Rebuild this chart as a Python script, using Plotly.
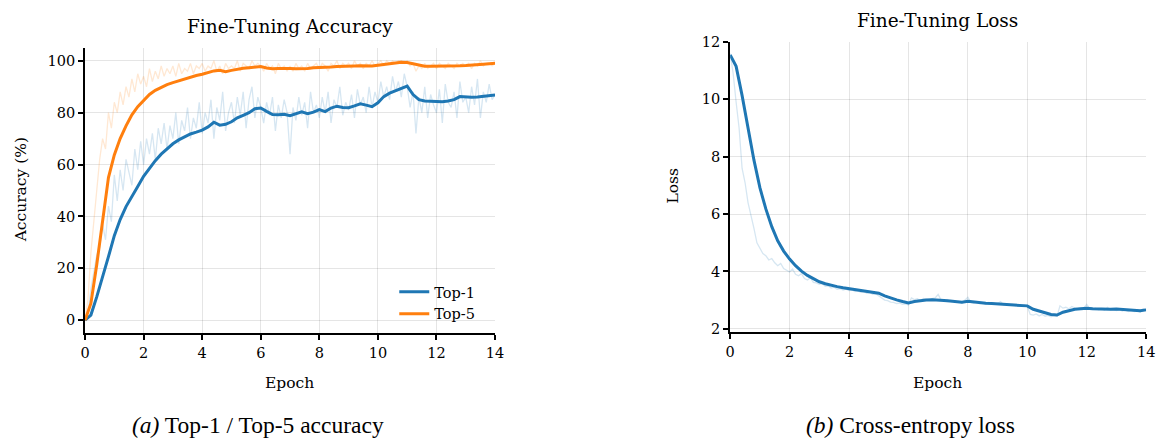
import plotly.graph_objects as go

W, H = 1166, 445

# ---------------- data ----------------
# smoothed curves, sampled every 0.2 epoch
top1_smooth = [0, 2, 9, 16.4, 24.5, 32.6, 38.8, 43.8, 47.5, 51.5,
               55.5, 58.5, 61.5, 64, 66, 68, 69.5, 70.8, 71.8, 72.5,
               73.3, 74.5, 76.3, 75.2, 75.5, 76.5, 78, 79, 80, 81.5,
               81.8, 80.5, 79.3, 79.2, 79.4, 78.8, 79.5, 80.3, 79.6, 80.2,
               81.2, 80.4, 81.8, 82.5, 82.0, 81.9, 82.6, 83.4, 82.9, 82.3,
               83.8, 86.2, 87.5, 88.5, 89.3, 90.2, 87.0, 85.0, 84.5, 84.4,
               84.3, 84.25, 84.5, 85.0, 86.2, 86.0, 85.9, 86.0, 86.3, 86.4,
               86.8]
top5_smooth = [0, 6.5, 21.4, 38.8, 55, 63.7, 70, 74.9, 79.2, 82.3,
               84.8, 87, 88.6, 89.8, 90.8, 91.6, 92.3, 93.1, 93.6, 94.3,
               94.8, 95.4, 96.1, 96.3, 95.8, 96.3, 96.8, 97.1, 97.3, 97.6,
               97.8, 97.2, 96.9, 97.0, 97.1, 97.0, 96.9, 96.9, 97.0, 97.3,
               97.4, 97.3, 97.6, 97.8, 97.8, 97.9, 98.0, 98.1, 98.1, 98.0,
               98.3, 98.6, 98.9, 99.2, 99.4, 99.3, 98.8, 98.2, 97.9, 97.9,
               97.9, 97.9, 98.0, 98.0, 98.1, 98.2, 98.3, 98.4, 98.7, 98.9,
               99.0]
loss_smooth = [11.55, 11.15, 10.14, 9.0, 7.88, 6.92, 6.18, 5.56, 5.07, 4.71,
               4.43, 4.2, 4.01, 3.86, 3.74, 3.64, 3.57, 3.51, 3.47, 3.43,
               3.40, 3.37, 3.33, 3.32, 3.29, 3.24, 3.15, 3.07, 3.01, 2.95,
               2.90, 2.95, 2.98, 3.00, 3.01, 3.01, 2.99, 2.97, 2.94, 2.93,
               2.96, 2.93, 2.91, 2.89, 2.88, 2.87, 2.86, 2.84, 2.83, 2.82,
               2.80, 2.68, 2.61, 2.56, 2.50, 2.48, 2.58, 2.64, 2.68, 2.70,
               2.72, 2.70, 2.69, 2.69, 2.68, 2.69, 2.67, 2.65, 2.64, 2.63,
               2.66]

# raw (unsmoothed) curves, sampled every 0.1 epoch
top1_raw = [0, 3, 12, 19, 25, 28, 37, 31, 44, 38,
            56, 46, 58, 50, 62, 57, 52, 66, 58, 69,
            60, 70, 64, 72, 62, 74, 68, 76, 66, 75,
            70, 80, 68, 77, 73, 82, 70, 78, 74, 84,
            72, 80, 76, 85, 70, 82, 77, 88, 73, 80,
            84, 76, 86, 79, 88, 74, 85, 90, 78, 86,
            82, 76, 84, 79, 86, 73, 83, 78, 85, 80,
            64, 82, 77, 86, 79, 84, 74, 88, 80, 83,
            78, 86, 80, 88, 76, 85, 82, 90, 79, 84,
            81, 87, 78, 89, 83, 86, 80, 90, 82, 88,
            84, 92, 86, 90, 85, 94, 88, 92, 86, 95,
            90, 82, 88, 72, 86, 80, 90, 78, 87, 83,
            80, 89, 76, 91, 84, 82, 88, 78, 92, 84,
            86, 80, 90, 83, 93, 78, 88, 84, 91, 85,
            87]
top5_raw = [0, 8, 26, 38, 50, 62, 70, 66, 80, 74,
            84, 80, 88, 83, 90, 86, 93, 88, 95, 91,
            94, 90, 97, 92, 96, 93, 98, 94, 97, 95,
            98, 94, 99, 95, 97, 96, 99, 95, 98, 97,
            99, 96, 98, 97, 100, 96, 98, 95, 99, 97,
            98, 97, 100, 96, 99, 98, 97, 100, 98, 99,
            98, 96, 99, 97, 98, 95, 99, 97, 98, 96,
            98, 96, 99, 97, 98, 96, 99, 97, 98, 99,
            97, 99, 98, 96, 99, 98, 100, 97, 99, 98,
            99, 97, 100, 98, 99, 97, 99, 98, 100, 98,
            99, 100, 98, 100, 99, 100, 99, 100, 100, 99,
            100, 98, 99, 96, 98, 97, 99, 97, 98, 99,
            97, 99, 98, 97, 99, 98, 97, 99, 98, 99,
            98, 99, 97, 99, 98, 100, 98, 99, 99, 98,
            99]
loss_raw = [11.6, 10.9, 9.9, 9.0, 7.6, 7.1, 6.4, 6.0, 5.5, 5.0,
            4.8, 4.62, 4.55, 4.4, 4.45, 4.3, 4.2, 4.28, 4.1, 4.05,
            3.98, 4.08, 3.9, 3.85, 3.92, 3.75, 3.7, 3.78, 3.62, 3.6,
            3.55, 3.58, 3.48, 3.5, 3.42, 3.45, 3.38, 3.4, 3.35, 3.38,
            3.33, 3.36, 3.3, 3.32, 3.27, 3.3, 3.24, 3.27, 3.2, 3.22,
            3.15, 3.1, 3.0, 2.98, 2.93, 2.92, 2.88, 2.9, 2.85, 2.87,
            2.83, 3.08, 3.02, 3.05, 2.98, 3.06, 3.02, 3.0, 3.05, 3.08,
            3.2, 3.0, 2.95, 3.02, 2.96, 2.98, 2.92, 2.95, 2.9, 3.0,
            3.1, 2.92, 2.9, 2.95, 2.88, 2.9, 2.86, 2.92, 2.87, 2.85,
            2.88, 2.95, 2.84, 2.86, 2.82, 2.85, 2.8, 2.83, 2.79, 2.82,
            2.78, 2.5, 2.48, 2.52, 2.45, 2.5, 2.44, 2.47, 2.42, 2.46,
            2.44, 2.8, 2.72, 2.75, 2.7, 2.78, 2.72, 2.7, 2.74, 2.72,
            2.85, 2.7, 2.68, 2.72, 2.66, 2.7, 2.65, 2.75, 2.66, 2.68,
            2.64, 2.67, 2.62, 2.65, 2.6, 2.64, 2.6, 2.62, 2.58, 2.7,
            2.66]

epoch_smooth = [round(i * 0.2, 1) for i in range(len(top1_smooth))]
epoch_raw = [round(i * 0.1, 1) for i in range(len(top1_raw))]
x_ticks = [0, 2, 4, 6, 8, 10, 12, 14]
acc_ticks = [0, 20, 40, 60, 80, 100]
loss_ticks = [2, 4, 6, 8, 10, 12]

BLUE = "#1f77b4"
ORANGE = "#ff7f0e"
SERIF = "DejaVu Serif"
TIMES = "Liberation Serif"
RAW_OPACITY = 0.18

fig = go.Figure()

# raw traces (light)
fig.add_trace(go.Scatter(x=epoch_raw, y=top5_raw, mode="lines",
                         line=dict(color=ORANGE, width=1.3), opacity=RAW_OPACITY,
                         showlegend=False, hoverinfo="skip", xaxis="x", yaxis="y"))
fig.add_trace(go.Scatter(x=epoch_raw, y=top1_raw, mode="lines",
                         line=dict(color=BLUE, width=1.3), opacity=RAW_OPACITY,
                         showlegend=False, hoverinfo="skip", xaxis="x", yaxis="y"))
# smoothed
fig.add_trace(go.Scatter(x=epoch_smooth, y=top1_smooth, mode="lines", name="Top-1",
                         line=dict(color=BLUE, width=3), xaxis="x", yaxis="y"))
fig.add_trace(go.Scatter(x=epoch_smooth, y=top5_smooth, mode="lines", name="Top-5",
                         line=dict(color=ORANGE, width=3), xaxis="x", yaxis="y"))

fig.add_trace(go.Scatter(x=epoch_raw, y=loss_raw, mode="lines",
                         line=dict(color=BLUE, width=1.3), opacity=RAW_OPACITY,
                         showlegend=False, hoverinfo="skip", xaxis="x2", yaxis="y2"))
fig.add_trace(go.Scatter(x=epoch_smooth, y=loss_smooth, mode="lines", name="Loss",
                         line=dict(color=BLUE, width=3), showlegend=False,
                         xaxis="x2", yaxis="y2"))

def px_x(p):
    return p / W

def px_y(p):
    return 1 - p / H

axis_common = dict(
    showline=True, linecolor="black", linewidth=2, mirror=False,
    ticks="outside", ticklen=5, tickwidth=1.5, tickcolor="black",
    showgrid=True, gridcolor="rgba(0,0,0,0.10)", gridwidth=1,
    zeroline=False, tickfont=dict(family=SERIF, size=14.5, color="black"),
)

fig.update_layout(
    width=W, height=H,
    margin=dict(l=0, r=0, t=0, b=0),
    paper_bgcolor="white", plot_bgcolor="white",
    xaxis=dict(domain=[px_x(81), px_x(496)], range=[0, 14], tickvals=x_ticks,
               anchor="y", **axis_common),
    yaxis=dict(domain=[px_y(335), px_y(41)], range=[-5, 105], tickvals=acc_ticks,
               anchor="x", **axis_common),
    xaxis2=dict(domain=[px_x(734), px_x(1155)], range=[0, 14], tickvals=x_ticks,
                anchor="y2", **axis_common),
    yaxis2=dict(domain=[px_y(334), px_y(35)], range=[1.88, 12.0], tickvals=loss_ticks,
                anchor="x2", **axis_common),
    legend=dict(x=px_x(394), y=px_y(276), xanchor="left", yanchor="top",
                bgcolor="rgba(0,0,0,0)", font=dict(family=SERIF, size=14.5, color="black"),
                tracegroupgap=0, itemwidth=30),
    showlegend=True,
)

def ann(text, x, y, size, family=SERIF, angle=0):
    fig.add_annotation(text=text, x=px_x(x), y=px_y(y), xref="paper", yref="paper",
                       showarrow=False, xanchor="center", yanchor="middle",
                       textangle=angle, font=dict(family=family, size=size, color="black"))

ann("Fine-Tuning Accuracy", 288, 19, 18.5)
ann("Fine-Tuning Loss", 944, 13, 18.5)
ann("Accuracy (%)", 16, 187, 15.5, angle=-90)
ann("Loss", 676, 183, 15.5, angle=-90)
ann("Epoch", 288, 386, 15.5)
ann("Epoch", 944, 386, 15.5)
ann("<i>(a)</i> Top-1 / Top-5 accuracy", 256, 430, 23.5, family=TIMES)
ann("<i>(b)</i> Cross-entropy loss", 917, 430, 23.5, family=TIMES)

fig.write_html("out.html")
